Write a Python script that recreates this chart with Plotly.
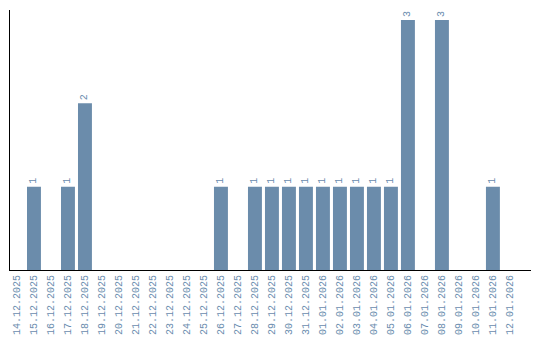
import plotly.graph_objects as go

dates = ["14.12.2025", "15.12.2025", "16.12.2025", "17.12.2025", "18.12.2025", "19.12.2025",
         "20.12.2025", "21.12.2025", "22.12.2025", "23.12.2025", "24.12.2025", "25.12.2025",
         "26.12.2025", "27.12.2025", "28.12.2025", "29.12.2025", "30.12.2025", "31.12.2025",
         "01.01.2026", "02.01.2026", "03.01.2026", "04.01.2026", "05.01.2026", "06.01.2026",
         "07.01.2026", "08.01.2026", "09.01.2026", "10.01.2026", "11.01.2026", "12.01.2026"]
counts = [0, 1, 0, 1, 2, 0,
          0, 0, 0, 0, 0, 0,
          1, 0, 1, 1, 1, 1,
          1, 1, 1, 1, 1, 3,
          0, 3, 0, 0, 1, 0]

idx = list(range(len(dates)))
labels = [str(c) if c else "" for c in counts]

bar_color = "#6b8cab"
text_color = "#6a8cae"

fig = go.Figure(go.Bar(
    x=idx, y=counts, marker=dict(color=bar_color, line=dict(width=0)),
    width=0.82,
    text=labels, textposition="outside", textangle=-90,
    textfont=dict(family="Liberation Mono", size=10, color=text_color),
    cliponaxis=False,
))

fig.update_layout(
    width=540, height=340,
    margin=dict(l=10, r=9, t=10, b=70),
    paper_bgcolor="white", plot_bgcolor="white",
    showlegend=False,
    xaxis=dict(
        range=[-0.41, 30.24], tickvals=idx, ticktext=dates, tickangle=-90,
        tickfont=dict(family="Liberation Mono", size=10, color=text_color),
        showline=True, linecolor="black", linewidth=1, showgrid=False,
        zeroline=False, ticks="", automargin=False,
    ),
    yaxis=dict(
        range=[0, 3.12], showticklabels=False, showgrid=False, automargin=False,
        showline=True, linecolor="black", linewidth=1, zeroline=False, ticks="",
    ),
)

fig.write_html("out.html")
